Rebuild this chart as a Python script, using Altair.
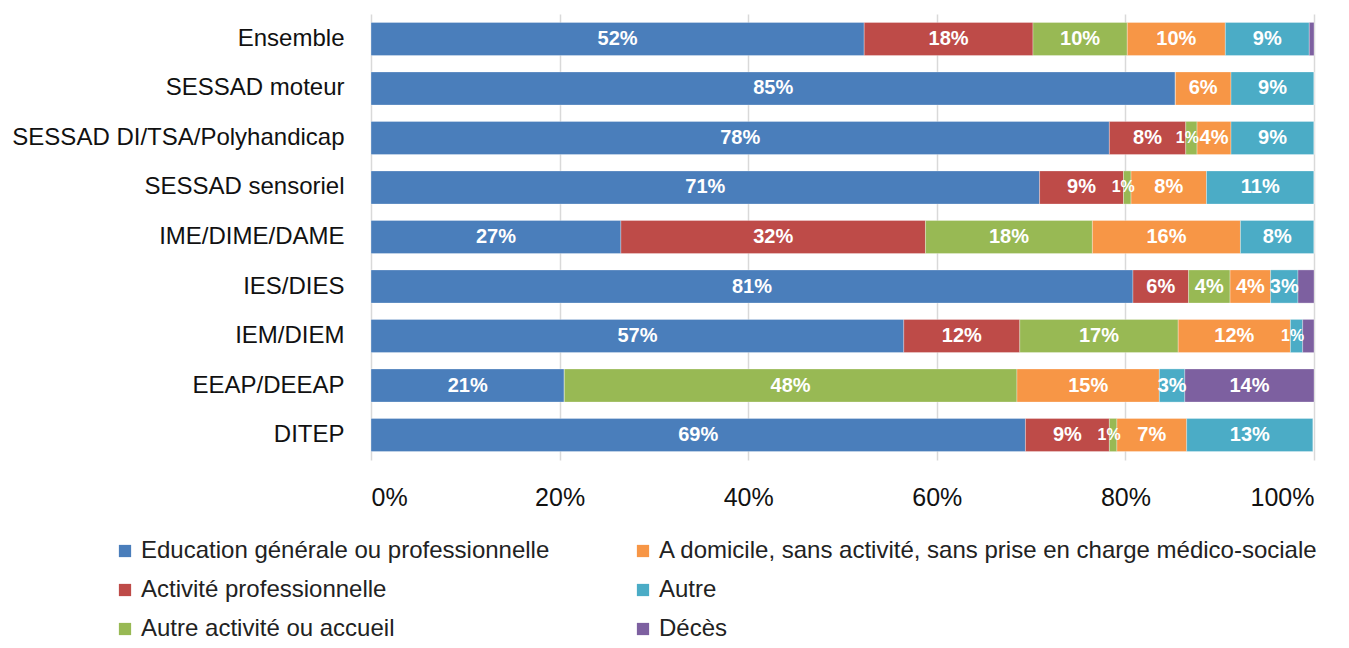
import altair as alt
import pandas as pd

categories = ["Ensemble", "SESSAD moteur", "SESSAD DI/TSA/Polyhandicap", "SESSAD sensoriel",
              "IME/DIME/DAME", "IES/DIES", "IEM/DIEM", "EEAP/DEEAP", "DITEP"]

series = ["Education générale ou professionnelle", "Activité professionnelle",
          "Autre activité ou accueil",
          "A domicile, sans activité, sans prise en charge médico-sociale",
          "Autre", "Décès"]

# values in percent, per category (same order as categories)
education = [52.3, 85.3, 78.3, 70.9, 26.5, 80.8, 56.5, 20.5, 69.4]
activite_pro = [17.9, 0.0, 8.1, 8.9, 32.3, 5.9, 12.3, 0.0, 8.9]
autre_activite = [10.0, 0.0, 1.2, 0.8, 17.7, 4.4, 16.8, 48.0, 0.8]
domicile = [10.4, 5.9, 3.6, 8.0, 15.7, 4.3, 11.9, 15.1, 7.4]
autre = [8.9, 8.8, 8.8, 11.4, 7.8, 2.9, 1.3, 2.7, 13.4]
deces = [0.5, 0.0, 0.0, 0.0, 0.0, 1.7, 1.2, 13.7, 0.0]

# labels shown on the bars
lab_education = ["52%", "85%", "78%", "71%", "27%", "81%", "57%", "21%", "69%"]
lab_activite_pro = ["18%", "", "8%", "9%", "32%", "6%", "12%", "", "9%"]
lab_autre_activite = ["10%", "", "1%", "1%", "18%", "4%", "17%", "48%", "1%"]
lab_domicile = ["10%", "6%", "4%", "8%", "16%", "4%", "12%", "15%", "7%"]
lab_autre = ["9%", "9%", "9%", "11%", "8%", "3%", "1%", "3%", "13%"]
lab_deces = ["", "", "", "", "", "", "", "14%", ""]

colors = ["#4a7ebb", "#be4b48", "#98b954", "#f79646", "#4bacc6", "#7d60a0"]

all_vals = [education, activite_pro, autre_activite, domicile, autre, deces]
all_labs = [lab_education, lab_activite_pro, lab_autre_activite, lab_domicile, lab_autre, lab_deces]

rows = []
for si, (s, vals, labs) in enumerate(zip(series, all_vals, all_labs)):
    for c, v, l in zip(categories, vals, labs):
        rows.append({"cat": c, "serie": s, "value": v / 100.0, "label": l, "ord": si})
df = pd.DataFrame(rows)

FONT = "Liberation Sans"

base = alt.Chart(df).transform_stack(
    stack="value", groupby=["cat"], sort=[alt.SortField("ord")], as_=["v0", "v1"]
).transform_calculate(mid="(datum.v0 + datum.v1) / 2")

y_enc = alt.Y("cat:N", sort=categories, title=None,
              scale=alt.Scale(paddingInner=0.33, paddingOuter=0.17),
              axis=alt.Axis(labelFontSize=24, labelFont=FONT, labelColor="#111111",
                            labelPadding=27, ticks=False, domain=False, grid=False,
                            labelLimit=400))

bars = base.mark_bar(stroke="white", strokeWidth=0.5, strokeOpacity=0.6).encode(
    x=alt.X("v0:Q", title=None,
            scale=alt.Scale(domain=[0, 1], nice=False),
            axis=alt.Axis(format=".0%", values=[0, 0.2, 0.4, 0.6, 0.8, 1.0],
                          labelFontSize=25, labelFont=FONT, labelColor="#111111",
                          labelPadding=25, ticks=False, domain=False,
                          grid=True, gridColor="#d9d9d9", gridWidth=1.5)),
    x2="v1:Q",
    y=y_enc,
    color=alt.Color("serie:N",
                    scale=alt.Scale(domain=series, range=colors),
                    legend=alt.Legend(title=None, orient="none", legendX=-258, legendY=525,
                                      columns=2, columnPadding=81, rowPadding=15,
                                      symbolType="square", symbolSize=150,
                                      symbolStrokeWidth=0,
                                      labelFontSize=24, labelFont=FONT, labelColor="#222222",
                                      labelLimit=800, labelOffset=4)),
)

texts = base.transform_filter("datum.value >= 0.015").mark_text(
    color="white", fontWeight="bold", fontSize=20,
    font=FONT, baseline="middle", align="center").encode(
    x=alt.X("mid:Q"),
    y=alt.Y("cat:N", sort=categories),
    text="label:N",
)

small_texts = base.transform_filter("datum.value < 0.015").mark_text(
    color="white", fontWeight="bold", fontSize=16, dx=-4,
    font=FONT, baseline="middle", align="center").encode(
    x=alt.X("mid:Q"),
    y=alt.Y("cat:N", sort=categories),
    text="label:N",
)

chart = alt.layer(bars, texts, small_texts).properties(
    width=943, height=446,
    autosize=alt.AutoSizeParams(type="none"),
    padding={"left": 363, "top": 6, "right": 27, "bottom": 180},
).configure_view(stroke=None)

chart.save("out.html", embed_options={"renderer": "svg", "actions": False})
